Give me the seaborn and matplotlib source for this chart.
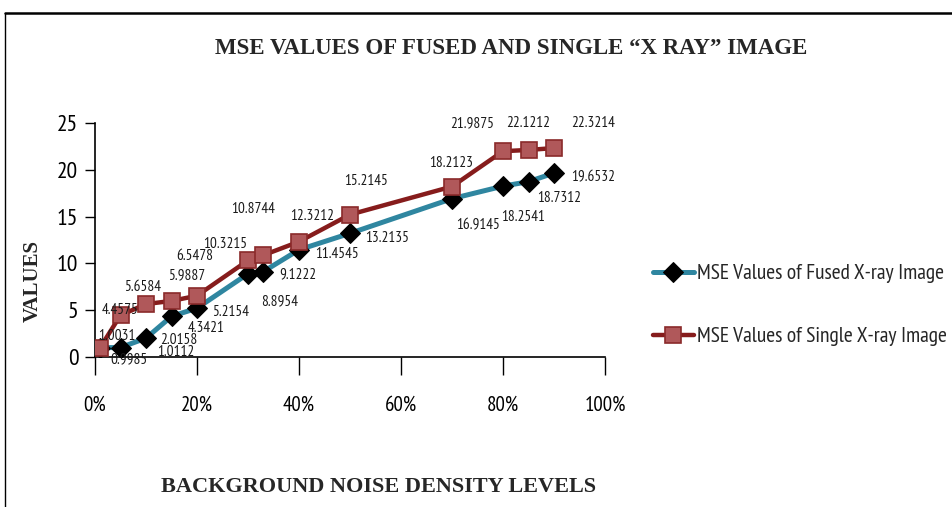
import numpy as np
import pandas as pd
import matplotlib
matplotlib.use("Agg")
import matplotlib.pyplot as plt
import seaborn as sns
from matplotlib.lines import Line2D
from matplotlib.ticker import PercentFormatter

# data
noise = [0.01, 0.05, 0.10, 0.15, 0.20, 0.30, 0.33, 0.40, 0.50, 0.70, 0.80, 0.85, 0.90]
fused = [0.9985, 1.0112, 2.0158, 4.3421, 5.2154, 8.8954, 9.1222, 11.4545, 13.2135,
         16.9145, 18.2541, 18.7312, 19.6532]
single = [1.0031, 4.4575, 5.6584, 5.9887, 6.5478, 10.3215, 10.8744, 12.3212, 15.2145,
          18.2123, 21.9875, 22.1212, 22.3214]
x_ticks = [0, 0.2, 0.4, 0.6, 0.8, 1.0]
y_ticks = [0, 5, 10, 15, 20, 25]
fused_name = "MSE Values of Fused X-ray Image"
single_name = "MSE Values of Single X-ray Image"

# label offsets in pixels (placement only)
fused_off = [(29, -12), (55, -4), (33, -2), (35, -12), (34, -4), (32, -28), (35, -3),
             (38, -4), (37, -5), (26, -27), (20, -31), (31, -16), (39, -4)]
single_off = [(17, 12), (0, 5), (-3, 17), (15, 26), (-2, 40), (-23, 16), (-10, 46),
              (13, 26), (16, 34), (-1, 24), (-31, 28), (0, 27), (39, 25)]

sns.set_theme(style="white")
plt.rcParams["font.family"] = ["PT Sans Narrow", "DejaVu Sans"]

W, H = 952, 507
fig = plt.figure(figsize=(W / 100, H / 100), dpi=100)
fig.patch.set_facecolor("white")
ax = fig.add_axes([95 / W, 1 - 357 / H, 510 / W, 234 / H])

df = pd.DataFrame({"noise": noise, "fused": fused, "single": single})

sns.lineplot(data=df, x="noise", y="fused", ax=ax, color="#2f86a0", lw=3.6,
             marker="D", markersize=10, markerfacecolor="black", markeredgecolor="black",
             label=fused_name, zorder=3)
sns.lineplot(data=df, x="noise", y="single", ax=ax, color="#861c1c", lw=3.2,
             marker="s", markersize=11, markerfacecolor="#b0585a", markeredgecolor="#8a2a2a",
             markeredgewidth=1.2, label=single_name, zorder=4)

for xv, yv, (dx, dy) in zip(noise, fused, fused_off):
    ax.annotate(f"{yv:.4f}", (xv, yv), xytext=(dx, dy), textcoords="offset pixels",
                ha="center", va="center", fontsize=11, color="#1a1a1a", zorder=6,
                annotation_clip=False)
for xv, yv, (dx, dy) in zip(noise, single, single_off):
    ax.annotate(f"{yv:.4f}", (xv, yv), xytext=(dx, dy), textcoords="offset pixels",
                ha="center", va="center", fontsize=11, color="#1a1a1a", zorder=6,
                annotation_clip=False)

ax.set_xlim(0, 1)
ax.set_ylim(0, 25)
ax.set_xticks(x_ticks)
ax.set_yticks(y_ticks)
ax.xaxis.set_major_formatter(PercentFormatter(1.0, decimals=0))
ax.tick_params(axis="x", direction="out", length=13, width=1, pad=15, labelsize=15,
               bottom=True, colors="black")
ax.tick_params(axis="y", direction="out", length=7, width=1, pad=5, labelsize=17,
               left=True, colors="black")
for side in ["top", "right"]:
    ax.spines[side].set_visible(False)
for side in ["left", "bottom"]:
    ax.spines[side].set_color("black")
    ax.spines[side].set_linewidth(1.2)
ax.set_xlabel("")
ax.set_ylabel("")
ax.grid(False)
ax.set_facecolor("none")

ax.legend(loc="upper left", bbox_to_anchor=(653 / W, 1 - 264 / H),
          bbox_transform=fig.transFigure, frameon=False, fontsize=15.5,
          handlelength=1.9, handletextpad=0.15, labelspacing=2.05, borderpad=0,
          borderaxespad=0)

serif = ["Liberation Serif", "DejaVu Serif"]
fig.text(511 / W, 1 - 48 / H, "MSE VALUES OF FUSED AND SINGLE \u201cX RAY\u201d IMAGE",
         ha="center", va="center", fontsize=16.5, fontweight="bold", family=serif)
fig.text(379 / W, 1 - 487 / H, "BACKGROUND NOISE DENSITY LEVELS",
         ha="center", va="center", fontsize=16, fontweight="bold", family=serif)
fig.text(33 / W, 1 - 281 / H, "VALUES", rotation=90, ha="center", va="center",
         fontsize=15, fontweight="bold", family=serif)

# frame remnants at the top and left edges
fig.add_artist(Line2D([5 / W, 1], [1 - 13 / H, 1 - 13 / H], transform=fig.transFigure,
                      color="black", lw=1.8))
fig.add_artist(Line2D([5 / W, 5 / W], [0, 1 - 13 / H], transform=fig.transFigure,
                      color="black", lw=1.0))

fig.savefig("out.png", dpi=100)
